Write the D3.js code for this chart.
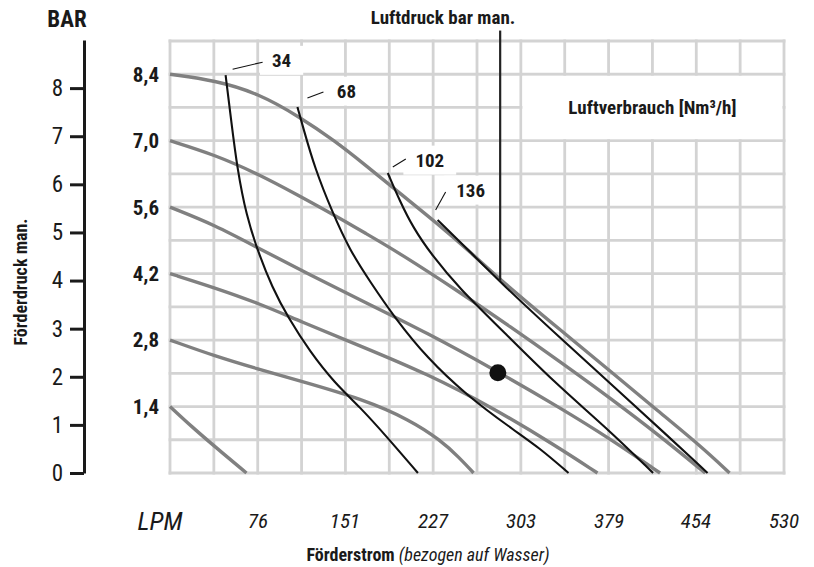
<!DOCTYPE html>
<html>
<head>
<meta charset="utf-8">
<script src="https://cdn.jsdelivr.net/npm/d3@7/dist/d3.min.js"></script>
<style>
  body { margin: 0; background: #fff; }
  text { font-family: "Liberation Sans Narrow", "Roboto Condensed", "DejaVu Sans Condensed", sans-serif; fill: #1a1a1a; }
</style>
</head>
<body>
<div id="chart"></div>
<script>
// --- Daten ---
// Förderkennlinien je Luftdruck (Förderstrom in LPM, Förderdruck in bar)
const pressureLabels = ["8,4", "7,0", "5,6", "4,2", "2,8", "1,4"];
const pressureValues = [8.4, 7.0, 5.6, 4.2, 2.8, 1.4];

const g84Flow = [0, 39, 76, 112, 142, 168, 199, 231, 259, 285, 337, 380, 419, 458, 483];
const g84Bar  = [8.4, 8.27, 8.0, 7.5, 7.0, 6.5, 5.88, 5.25, 4.66, 4.07, 3.01, 2.15, 1.35, 0.57, 0];
const g70Flow = [0, 39, 76, 110, 142, 168, 199, 250, 294, 337, 380, 423, 462];
const g70Bar  = [7.0, 6.70, 6.30, 5.86, 5.43, 5.06, 4.62, 3.81, 3.08, 2.34, 1.58, 0.78, 0];
const g56Flow = [0, 39, 76, 121, 168, 222, 279, 337, 380, 423];
const g56Bar  = [5.6, 5.22, 4.74, 4.17, 3.60, 2.95, 2.19, 1.37, 0.72, 0];
const g42Flow = [0, 39, 76, 112, 164, 222, 279, 332, 369];
const g42Bar  = [4.2, 3.90, 3.58, 3.20, 2.68, 2.09, 1.37, 0.59, 0];
const g28Flow = [0, 39, 76, 112, 166, 207, 233, 250, 262];
const g28Bar  = [2.8, 2.46, 2.19, 1.94, 1.56, 1.12, 0.70, 0.32, 0];
const g14Flow = [0, 19, 39, 66];
const g14Bar  = [1.4, 0.97, 0.55, 0];

// Luftverbrauch in Nm³/h
const airLabels = ["34", "68", "102", "136"];
const c34Flow = [48, 53, 58, 66, 76, 88, 102, 121, 142, 164, 188, 214];
const c34Bar  = [8.38, 7.39, 6.42, 5.41, 4.66, 3.92, 3.27, 2.55, 1.90, 1.39, 0.74, 0];
const c68Flow = [110, 115, 125, 140, 155, 173, 194, 222, 256, 294, 319, 344];
const c68Bar  = [7.71, 7.27, 6.42, 5.50, 4.70, 4.02, 3.27, 2.42, 1.64, 0.95, 0.53, 0];
const c102Flow = [188, 198, 210, 226, 250, 285, 332, 376, 417];
const c102Bar  = [6.32, 5.75, 5.16, 4.59, 3.88, 3.05, 1.90, 0.97, 0];
const c136Flow = [231, 259, 285, 337, 388, 427, 464];
const c136Bar  = [5.33, 4.66, 4.02, 2.84, 1.71, 0.84, 0];

// Achsen
const flowTicks = [76, 151, 227, 303, 379, 454, 530];
const barTicks = [0, 1, 2, 3, 4, 5, 6, 7, 8];

// Betriebspunkt und Luftdruck-Markierung
const pointFlow = 283, pointBar = 2.11;
const markerFlow = 285, markerBar = 4.05;

// --- Layout ---
const W = 814, H = 567;
const svg = d3.select("#chart").append("svg").attr("width", W).attr("height", H);

const x = d3.scaleLinear().domain([0, 530]).range([170, 784]);
const y = d3.scaleLinear().domain([0, 9.1]).range([473, 41]);
const yBar = d3.scaleLinear().domain([0, 9]).range([473, 40]);

const gridX = d3.range(0, 15).map(i => i * 530 / 14);
const gridY = d3.range(0, 14).map(i => +(i * 0.7).toFixed(2));

// Gitter
const grid = svg.append("g").attr("stroke", "#d3d3d3").attr("stroke-width", 2.8).attr("stroke-linecap", "square");
grid.selectAll("line.v").data(gridX).enter().append("line").attr("class", "v")
  .attr("x1", d => x(d)).attr("x2", d => x(d)).attr("y1", y(9.1)).attr("y2", y(0));
grid.selectAll("line.h").data(gridY).enter().append("line").attr("class", "h")
  .attr("x1", x(0)).attr("x2", x(530)).attr("y1", d => y(d)).attr("y2", d => y(d));

// Feld "Luftverbrauch"
svg.append("rect")
  .attr("x", x(gridX[8]) + 1.6).attr("y", y(8.4) + 1.6)
  .attr("width", x(530) - x(gridX[8]) - 3.2).attr("height", y(7.0) - y(8.4) - 3.2)
  .attr("fill", "#fff");
svg.append("text").attr("x", (x(gridX[8]) + x(530)) / 2).attr("y", (y(8.4) + y(7.0)) / 2)
  .attr("dy", "0.35em").attr("text-anchor", "middle")
  .style("font-size", "19px").style("font-weight", "bold")
  .text("Luftverbrauch [Nm³/h]");

// Beschriftungen der Luftverbrauchskurven (Hintergrund zuerst)
const airCurves = [
  [c34Flow, c34Bar], [c68Flow, c68Bar], [c102Flow, c102Bar], [c136Flow, c136Bar]
];
// Pixelversatz von Kurvenanfang zu Text und Hinweisstrich
const labelLayout = [
  {tx: 56, ty: -15, l: [7, -6, 37, -13]},
  {tx: 49, ty: -16, l: [10, -9, 26, -15]},
  {tx: 42, ty: -13, l: [5, -6, 18, -14]},
  {tx: 33, ty: -30, l: [-2, -10, 8, -28]}
];
const labelG = svg.append("g");
airCurves.forEach((c, i) => {
  const x0 = x(c[0][0]), y0 = y(c[1][0]);
  const lay = labelLayout[i];
  const g = labelG.append("g");
  const t = g.append("text").attr("x", x0 + lay.tx).attr("y", y0 + lay.ty)
    .attr("dy", "0.35em").attr("text-anchor", "middle")
    .style("font-size", "19px").style("font-weight", "bold").text(airLabels[i]);
  const bb = t.node().getBBox();
  g.insert("rect", "text").attr("x", bb.x - 12).attr("y", bb.y - 3)
    .attr("width", bb.width + 24).attr("height", bb.height + 6).attr("fill", "#fff");
  g.append("line").attr("x1", x0 + lay.l[0]).attr("y1", y0 + lay.l[1])
    .attr("x2", x0 + lay.l[2]).attr("y2", y0 + lay.l[3])
    .attr("stroke", "#111").attr("stroke-width", 1.1);
});

// Kurven
const line = d3.line().x(d => x(d[0])).y(d => y(d[1])).curve(d3.curveBasis);
const greyCurves = [
  [g84Flow, g84Bar], [g70Flow, g70Bar], [g56Flow, g56Bar],
  [g42Flow, g42Bar], [g28Flow, g28Bar], [g14Flow, g14Bar]
];
svg.append("g").selectAll("path").data(greyCurves).enter().append("path")
  .attr("d", c => line(c[0].map((f, i) => [f, c[1][i]])))
  .attr("fill", "none").attr("stroke", "#808080").attr("stroke-width", 3.4);

svg.append("g").selectAll("path").data(airCurves).enter().append("path")
  .attr("d", c => line(c[0].map((f, i) => [f, c[1][i]])))
  .attr("fill", "none").attr("stroke", "#111").attr("stroke-width", 2.1);

// Luftdruck-Markierung
svg.append("line").attr("x1", x(markerFlow)).attr("x2", x(markerFlow))
  .attr("y1", y(markerBar)).attr("y2", y(9.32))
  .attr("stroke", "#222").attr("stroke-width", 2.2);
svg.append("text").attr("x", 443).attr("y", 24).attr("text-anchor", "middle")
  .style("font-size", "19px").style("font-weight", "bold").text("Luftdruck bar man.");

// Betriebspunkt
svg.append("circle").attr("cx", x(pointFlow)).attr("cy", y(pointBar)).attr("r", 8.5).attr("fill", "#111");

// Luftdruck-Beschriftungen links am Gitter
svg.append("g").selectAll("text").data(pressureValues).enter().append("text")
  .attr("x", 159).attr("y", d => y(d)).attr("dy", "0.35em").attr("text-anchor", "end")
  .style("font-size", "21px").style("font-weight", "bold")
  .text((d, i) => pressureLabels[i]);

// Linke Achse BAR
const axisG = svg.append("g").attr("transform", "translate(84,0)")
  .call(d3.axisLeft(yBar).tickValues(barTicks).tickSize(14).tickSizeOuter(0).tickPadding(7));
axisG.select(".domain").attr("stroke", "#1a1a1a").attr("stroke-width", 3);
axisG.selectAll(".tick line").attr("stroke", "#1a1a1a").attr("stroke-width", 3);
axisG.selectAll(".tick text").attr("fill", "#1a1a1a")
  .style("font-size", "23px").style("font-family", null);
svg.append("text").attr("x", 67).attr("y", 27).attr("text-anchor", "middle")
  .style("font-size", "23px").style("font-weight", "bold").text("BAR");
svg.append("text").attr("transform", "translate(27,282) rotate(-90)").attr("text-anchor", "middle")
  .style("font-size", "18px").style("font-weight", "bold").text("Förderdruck man.");

// Untere Achse LPM
svg.append("g").selectAll("text").data(flowTicks).enter().append("text")
  .attr("x", d => x(d)).attr("y", 528).attr("text-anchor", "middle")
  .style("font-size", "21px").style("font-style", "italic").text(d => d);
svg.append("text").attr("x", 160).attr("y", 530).attr("text-anchor", "middle")
  .style("font-size", "26px").style("font-style", "italic").text("LPM");
const title = svg.append("text").attr("x", 428).attr("y", 561).attr("text-anchor", "middle")
  .style("font-size", "18px");
title.append("tspan").style("font-weight", "bold").text("Förderstrom ");
title.append("tspan").style("font-style", "italic").text("(bezogen auf Wasser)");
</script>
</body>
</html>
